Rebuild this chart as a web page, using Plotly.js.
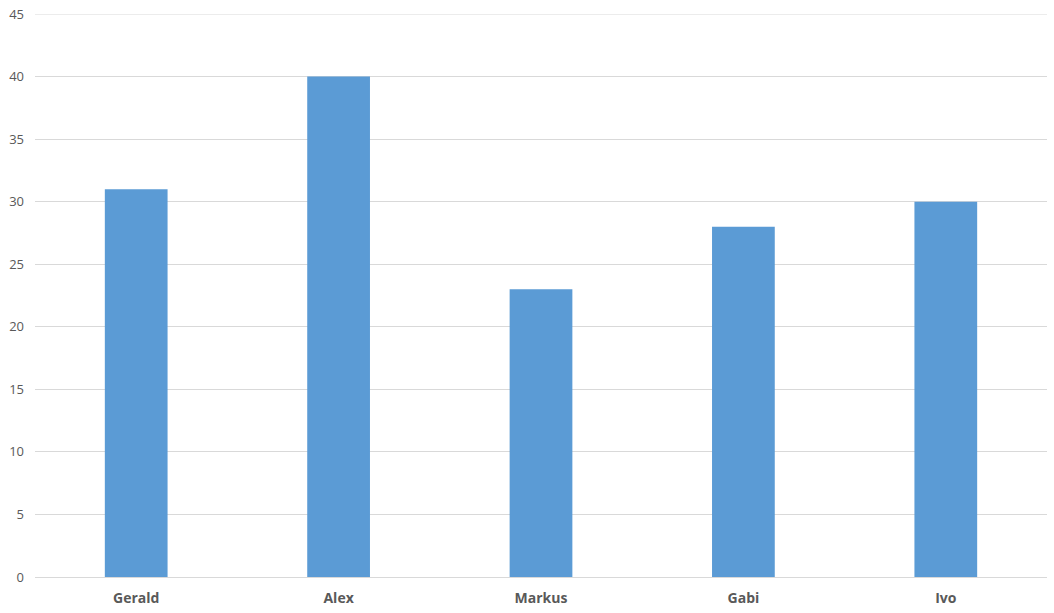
<!DOCTYPE html>
<html>
<head>
<meta charset="utf-8">
<script src="https://cdn.plot.ly/plotly-3.0.1.min.js"></script>
<style>html,body{margin:0;padding:0;background:#fff;}#chart{width:1054px;height:613px;}</style>
</head>
<body>
<div id="chart"></div>
<script>
const categories = ["Gerald", "Alex", "Markus", "Gabi", "Ivo"];
const values = [31, 40, 23, 28, 30];
const yTicks = [0, 5, 10, 15, 20, 25, 30, 35, 40, 45];
const yMax = 45;

Plotly.newPlot('chart', [{
  type: 'bar',
  x: categories,
  y: values,
  marker: {color: '#5B9BD5'},
  hoverinfo: 'x+y'
}], {
  width: 1054, height: 613,
  margin: {l: 35, r: 7, t: 14, b: 36},
  paper_bgcolor: '#fff', plot_bgcolor: '#fff',
  bargap: 0.69,
  showlegend: false,
  xaxis: {
    type: 'category',
    showgrid: false,
    showline: true, linecolor: '#D9D9D9', linewidth: 1,
    ticks: '',
    tickfont: {family: 'Open Sans, Liberation Sans, sans-serif', size: 14, color: '#595959', weight: 'bold'},
    ticklabelstandoff: 8
  },
  yaxis: {
    range: [0, yMax],
    tickvals: yTicks,
    showgrid: true, gridcolor: '#D9D9D9', gridwidth: 1,
    zeroline: false, showline: false,
    ticks: '',
    tickfont: {family: 'Open Sans, Liberation Sans, sans-serif', size: 13, color: '#595959'},
    ticklabelstandoff: 10
  },
  shapes: [{
    type: 'line', layer: 'below',
    xref: 'paper', x0: 0, x1: 1,
    yref: 'y', y0: yMax, y1: yMax,
    line: {color: '#D9D9D9', width: 1}
  }]
}, {displayModeBar: false, staticPlot: true});
</script>
</body>
</html>
